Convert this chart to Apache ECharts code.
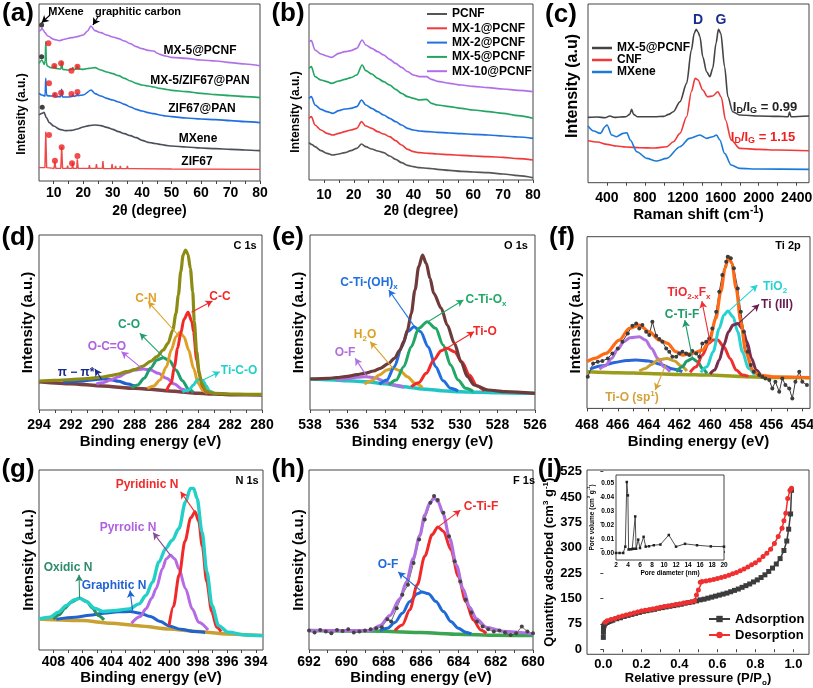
<!DOCTYPE html>
<html><head><meta charset="utf-8">
<script src="https://cdn.jsdelivr.net/npm/echarts@6/dist/echarts.min.js"></script>
<style>html,body{margin:0;padding:0;background:#fff}#c{width:813px;height:688px}</style>
</head><body><div id="c"></div>
<script>
// ================= DATA =================
// (a) XRD, [2theta, intensity a.u.]
const a_mx5pcnf = [[5,448],[5.5,452],[6,458],[6.5,452],[7,445],[8,435],[10,425],[12,421],[14,426],[16,430],[18,433],[20,438],[21.5,450],[22.6,465],[24,451],[26,445],[28,438],[30,432],[32,427],[34,420],[36,412],[38,403],[40,397],[42,392],[44,390],[45,384],[46,380],[48,375],[50,371],[55,368],[60,363],[65,360],[70,355],[75,351],[80,346]];
const a_mx5zif = [[5,353],[6,363],[6.8,350],[7.1,360],[7.3,418],[7.5,355],[7.8,345],[9,340],[10.1,340],[10.3,348],[10.6,338],[12.4,336],[12.7,358],[13.0,335],[15,333],[16.3,336],[16.5,340],[16.8,334],[17.8,336],[18.0,345],[18.3,336],[20,335],[22,338],[24,340],[26,333],[28,327],[30,322],[32,316],[34,308],[36,300],[38,293],[40,288],[42,285],[44,282],[46,278],[48,275],[50,272],[55,268],[60,263],[65,259],[70,256],[75,253],[80,250]];
const a_zifpan = [[5,263],[6,258],[7,255],[7.1,262],[7.3,308],[7.5,262],[7.8,256],[9,255],[10.1,255],[10.3,262],[10.6,253],[12.4,253],[12.7,275],[13.0,252],[15,252],[16.3,254],[16.5,259],[16.8,254],[17.8,256],[18.0,262],[18.3,256],[20,258],[22.7,273],[24,262],[26,255],[28,248],[30,243],[32,237],[34,230],[36,222],[38,215],[40,210],[42,205],[44,202],[46,198],[48,195],[50,193],[55,189],[60,186],[65,184],[70,181],[75,178],[80,175]];
const a_mxene = [[5,198],[6,203],[6.7,206],[7.5,190],[8.5,175],[10,165],[12,155],[14,151],[16,152],[18,156],[20,162],[22,166],[24,168],[26,166],[28,161],[30,155],[32,148],[34,142],[36,136],[38,130],[40,122],[42,116],[44,113],[46,110],[48,107],[50,105],[55,102],[60,99],[65,97],[70,95],[75,93],[80,91]];
const a_zif67 = [[5,40],[7.0,40],[7.3,148],[7.6,40],[10.1,38],[10.4,58],[10.7,38],[12.4,38],[12.7,103],[13.0,38],[14.5,38],[14.7,46],[14.9,38],[16.2,38],[16.4,55],[16.6,38],[17.8,38],[18.0,65],[18.3,38],[21.9,38],[22.1,48],[22.3,38],[24.3,38],[24.5,51],[24.7,38],[26.5,38],[26.7,60],[26.9,37],[29.6,37],[29.8,51],[30,37],[30.8,37],[31,45],[31.2,37],[32.4,37],[32.6,45],[32.8,37],[34.8,37],[35,45],[35.2,37],[36.5,37],[36.7,43],[36.9,37],[50,36],[80,35]];
const a_starsMX = [[5.9,468],[5.9,373],[6.1,221]];
const a_starsZIF = [[8.2,413],[10.2,345],[12.5,353],[16.0,331],[18.05,343],[8.4,293],[10.4,258],[12.5,265],[16.0,261],[18.05,267],[8.4,138],[10.4,61],[12.7,101],[16.2,53],[18.05,75]];
const a_labels = ['MX-5@PCNF','MX-5/ZIF67@PAN','ZIF67@PAN','MXene','ZIF67'];

// (b) XRD
const b_names = ['PCNF','MX-1@PCNF','MX-2@PCNF','MX-5@PCNF','MX-10@PCNF'];
const b_pcnf = [[5,112],[6,106],[7,100],[9,88],[11,80],[13,75],[15,78],[17,82],[19,88],[21,95],[22.6,108],[24,100],[26,93],[28,87],[30,82],[32,72],[34,62],[36,52],[38,44],[40,40],[42,37],[45,35],[48,32],[52,29],[56,26],[60,24],[65,22],[70,18],[75,13],[80,7]];
const b_mx1 = [[5,185],[5.8,190],[7,165],[9,150],[11,140],[13,135],[15,140],[17,145],[19,150],[21,155],[22.6,175],[24,162],[26,155],[28,145],[30,138],[32,130],[34,118],[36,105],[38,92],[40,85],[42,82],[45,80],[48,78],[52,76],[56,74],[60,72],[65,70],[70,68],[75,64],[80,60]];
const b_mx2 = [[5,245],[5.8,250],[7,225],[9,212],[11,205],[13,200],[15,208],[17,213],[19,215],[21,220],[22.6,240],[24,225],[26,215],[28,205],[30,195],[32,185],[34,175],[36,165],[38,155],[40,150],[42,147],[45,145],[48,143],[52,141],[56,139],[60,137],[65,135],[70,132],[75,129],[80,125]];
const b_mx5 = [[5,335],[5.8,340],[7,310],[9,300],[11,295],[12.5,290],[15,297],[17,302],[19,307],[21,315],[22.8,345],[24,328],[26,318],[28,305],[30,295],[32,285],[34,272],[36,260],[38,250],[40,245],[42,240],[44.3,242],[46,230],[48,225],[52,220],[56,215],[60,210],[65,205],[70,200],[75,193],[80,185]];
const b_mx10 = [[5,415],[5.8,418],[7,390],[9,378],[11,372],[12.5,368],[15,380],[17,385],[19,388],[21,395],[22.8,420],[24,405],[26,395],[28,385],[30,375],[32,362],[34,350],[36,338],[38,325],[40,315],[42,310],[44.3,310],[46,302],[48,296],[52,290],[56,285],[60,281],[65,277],[70,273],[75,269],[80,265]];

// (c) Raman, [shift cm-1, intensity]
const c_names = ['MX-5@PCNF','CNF','MXene'];
const c_mx5 = [[200,196],[300,197],[380,195],[430,200],[480,196],[540,197],[600,198],[640,205],[660,220],[680,205],[720,198],[800,198],[900,198],[1000,199],[1050,205],[1100,213],[1170,243],[1240,298],[1290,398],[1320,448],[1340,460],[1360,452],[1380,438],[1410,378],[1450,333],[1485,318],[1515,343],[1550,418],[1575,460],[1600,448],[1640,348],[1675,258],[1725,213],[1800,203],[2000,200],[2200,199],[2310,198],[2325,212],[2340,198],[2530,200]];
const c_cnf = [[200,126],[300,122],[400,115],[500,110],[600,107],[750,105],[900,104],[1030,108],[1100,123],[1170,148],[1240,198],[1290,273],[1330,313],[1360,308],[1410,278],[1460,258],[1515,260],[1570,273],[1605,256],[1650,188],[1710,128],[1800,103],[2000,100],[2200,98],[2530,96]];
const c_mxene = [[200,170],[260,155],[330,148],[380,168],[400,173],[450,143],[500,138],[570,148],[610,150],[645,128],[715,93],[820,73],[920,65],[1030,73],[1170,108],[1270,133],[1380,143],[1450,133],[1515,138],[1555,143],[1590,128],[1640,88],[1710,53],[1800,43],[2000,41],[2530,40]];

// (d) C 1s, [binding energy eV, intensity]
const d_bg = [[294,85],[292,79],[290,72],[288,65],[287,62],[286,58],[285,54],[284,50],[283,48],[282,46],[280,45]];
const d_env = [[294,87],[293,89],[292,91],[291,94],[290,99],[289.5,103],[289,108],[288.5,115],[288,121],[287.5,131],[287,146],[286.6,160],[286.2,180],[285.9,200],[285.6,240],[285.4,290],[285.25,345],[285.1,415],[284.95,465],[284.8,480],[284.65,468],[284.5,425],[284.35,355],[284.25,265],[284.1,175],[283.95,115],[283.8,80],[283.5,57],[283.2,52],[283,50],[282,48],[281,47],[280,47]];
const d_cc = [[286.0,58],[285.7,80],[285.5,130],[285.3,185],[285.1,230],[284.9,272],[284.64,293],[284.4,265],[284.3,235],[284.1,150],[283.9,100],[283.7,68],[283.5,55],[283.2,50]];
const d_cn = [[287.2,65],[286.8,72],[286.4,90],[286.0,130],[285.7,180],[285.4,220],[285.16,233],[284.9,220],[284.6,180],[284.3,125],[284.0,80],[283.7,58],[283.4,50]];
const d_co = [[288.2,67],[287.8,75],[287.4,95],[287.0,125],[286.6,150],[286.2,157],[285.8,148],[285.4,120],[285.0,88],[284.6,62],[284.3,53]];
const d_oco = [[290.4,78],[290,82],[289.5,90],[289,100],[288.5,112],[288,120],[287.46,123],[287,120],[286.5,110],[286,95],[285.5,78],[285,62],[284.6,55]];
const d_pi = [[292.5,84],[291.5,86],[290.5,91],[290,93],[289.5,91],[289,86],[288.5,79],[288,72]];
const d_tico = [[285.0,55],[284.6,60],[284.3,75],[284.1,88],[283.9,93],[283.7,88],[283.5,72],[283.3,57],[283.0,50]];

// (e) O 1s
const e_bg = [[538,93],[537,91],[536,88],[535,85],[534,79],[533,70],[532,63],[531,58],[530,55],[529,53],[528,52],[526,50]];
const e_env = [[538,93],[537,95],[536.6,97],[536,101],[535.5,106],[535.1,110],[534.6,117],[534.25,125],[533.8,140],[533.5,155],[533.2,180],[533.0,205],[532.8,240],[532.6,290],[532.4,360],[532.2,430],[532.0,465],[531.8,440],[531.6,395],[531.4,350],[531.0,305],[530.68,255],[530.3,200],[529.95,145],[529.6,100],[529.25,75],[528.5,60],[527.6,55],[526,50]];
const e_tio = [[532.6,70],[532.2,82],[531.8,110],[531.4,150],[531.0,178],[530.7,185],[530.3,175],[529.9,145],[529.5,105],[529.1,72],[528.7,57]];
const e_ctiox = [[533.8,75],[533.4,90],[533.0,130],[532.6,190],[532.2,245],[531.75,265],[531.3,245],[530.9,195],[530.5,135],[530.1,90],[529.7,65],[529.3,56]];
const e_ctioh = [[534.3,77],[533.9,90],[533.5,130],[533.1,190],[532.8,235],[532.45,250],[532.1,235],[531.7,190],[531.3,130],[530.9,88],[530.5,65],[530.1,57]];
const e_h2o = [[535.1,78],[534.7,88],[534.3,105],[533.9,120],[533.55,125],[533.2,118],[532.8,100],[532.4,80],[532.0,68]];
const e_of = [[536.6,91],[536,94],[535.5,98],[535,100],[534.5,96],[534,85],[533.5,75],[533,68]];

// (f) Ti 2p
const f_bg = [[468,110],[466,107],[464,105],[462,102],[460,100],[458,96],[456,93],[453.5,92]];
const f_raw = [[467.95,95],[467.6,135],[467.3,140],[467.0,142],[466.65,150],[466.35,165],[466.0,180],[465.7,200],[465.35,225],[465.05,248],[464.8,255],[464.6,240],[464.4,250],[464.15,230],[463.95,220],[463.75,260],[463.5,218],[463.3,208],[463.1,200],[462.85,180],[462.65,170],[462.45,155],[462.2,155],[462.0,165],[461.8,170],[461.55,165],[461.35,160],[461.15,172],[460.9,165],[460.7,155],[460.5,195],[460.25,200],[460.05,210],[459.85,240],[459.6,290],[459.4,350],[459.2,400],[458.95,440],[458.85,455],[458.65,450],[458.45,420],[458.2,360],[458.0,290],[457.8,230],[457.55,170],[457.35,130],[457.15,110],[456.8,100],[456.6,95],[456.4,90],[456.15,85],[455.95,60],[455.75,80],[455.5,50],[455.3,90],[455.1,70],[454.85,60],[454.65,30],[454.45,80],[454.2,110],[454.0,80],[453.7,70]];
const f_env = [[468,140],[467.5,150],[466.77,165],[465.9,205],[465.25,240],[464.6,250],[463.95,230],[463.3,205],[462.76,195],[462.22,170],[461.79,160],[461.14,165],[460.49,175],[460.06,200],[459.62,270],[459.3,350],[459.02,420],[458.8,455],[458.58,435],[458.3,360],[458.0,260],[457.68,170],[457.24,115],[456.81,100],[455.94,95],[453.5,92]];
const f_tiiii = [[460.0,103],[459.7,115],[459.4,145],[459.1,190],[458.8,230],[458.5,250],[458.2,255],[457.9,240],[457.6,200],[457.3,150],[457.0,115],[456.7,98]];
const f_tio2 = [[460.6,108],[460.2,125],[459.8,170],[459.4,240],[459.1,280],[458.85,292],[458.5,275],[458.2,230],[457.9,170],[457.5,120],[457.1,100]];
const f_tiof = [[461.3,108],[460.9,125],[460.5,160],[460.1,195],[459.8,205],[459.5,205],[459.1,185],[458.7,150],[458.3,115],[457.9,100],[457.5,96]];
const f_ctif = [[462.2,110],[461.8,125],[461.5,142],[461.15,150],[460.8,140],[460.5,120],[460.2,105]];
const f_tiosp = [[464.6,112],[464.2,120],[463.8,132],[463.4,145],[462.8,150],[462.3,142],[461.9,128],[461.5,112]];
const f_p12 = [[467.2,118],[466.8,128],[466.4,150],[466.0,178],[465.6,200],[465.2,212],[464.6,215],[464.2,205],[463.8,180],[463.4,150],[463.0,125],[462.6,110]];
const f_sat = [[467.8,118],[467.0,128],[466.2,138],[465.4,144],[464.8,145],[464.0,142],[463.2,132],[462.4,118],[461.8,110]];

// (g) N 1s
const g_bg = [[409,93],[406,88],[404,80],[402,72],[400,63],[398,55],[396,48],[393.5,43]];
const g_env = [[409,93],[408.25,98],[407.67,113],[407.1,133],[406.53,150],[406.19,155],[405.73,145],[405.16,125],[404.58,115],[403.67,118],[402.75,123],[402.07,138],[401.6,163],[401.15,203],[400.7,263],[400.24,303],[399.78,328],[399.32,363],[398.86,443],[398.52,483],[398.3,483],[398.06,453],[397.72,353],[397.38,233],[397.03,133],[396.57,73],[395.9,53],[394.74,45],[393.5,43]];
const g_pyridinic = [[400.0,73],[399.7,130],[399.3,225],[398.9,325],[398.5,395],[398.2,413],[397.95,385],[397.7,310],[397.4,205],[397.05,115],[396.7,68],[396.4,55]];
const g_pyrrolic = [[402.6,80],[402.0,100],[401.6,123],[401.2,155],[400.9,183],[400.46,243],[400.2,272],[399.9,283],[399.6,272],[399.32,243],[398.86,183],[398.4,123],[397.95,83],[397.3,60]];
const g_graphitic = [[407.8,92],[406.5,98],[405.5,104],[404.5,110],[403.5,114],[402.7,115],[402.0,110],[401.3,100],[400.6,85],[400.0,72],[399.2,62],[398.2,55],[397.5,52]];
const g_oxidic = [[408.0,92],[407.6,105],[407.2,125],[406.8,143],[406.2,155],[405.7,145],[405.3,125],[404.9,103],[404.5,90]];

// (h) F 1s
const h_bg = [[692,58],[690,57],[688,56],[686,52],[684,47],[682,44],[680,43]];
const h_raw = [[692,58],[691.7,52],[691.4,60],[691.1,55],[690.8,50],[690.5,60],[690.2,57],[689.9,62],[689.6,52],[689.3,55],[689.0,58],[688.7,62],[688.4,65],[688.1,68],[687.8,92],[687.6,85],[687.3,125],[687.0,165],[686.7,195],[686.4,260],[686.1,330],[685.8,390],[685.5,440],[685.3,460],[685.1,448],[684.8,410],[684.5,340],[684.2,265],[683.9,205],[683.6,150],[683.3,112],[683.0,85],[682.7,70],[682.4,62],[682.1,55],[681.8,58],[681.5,52],[681.2,45],[680.9,50],[680.6,70],[680.3,55],[680.0,50]];
const h_env = [[692,58],[690,58],[688.7,58],[688.2,73],[687.67,103],[687.13,153],[686.78,203],[686.42,273],[686.06,343],[685.8,403],[685.53,438],[685.3,455],[685.08,443],[684.82,408],[684.46,333],[684.1,253],[683.75,183],[683.4,128],[683.03,93],[682.5,68],[681.6,56],[680,48]];
const h_ctif = [[687.4,58],[687.0,75],[686.6,120],[686.2,195],[685.8,280],[685.4,345],[685.1,368],[684.8,355],[684.4,300],[684.0,220],[683.6,145],[683.2,90],[682.8,60],[682.5,50]];
const h_of = [[688.2,58],[687.8,65],[687.4,82],[687.0,110],[686.6,145],[686.2,168],[685.95,173],[685.6,168],[685.2,145],[684.8,115],[684.4,85],[684.0,65],[683.6,53],[683.3,48]];

// (i) N2 isotherm [P/P0, cm3/g] and inset PSD [nm, cm3/g]
const i_ads = [[0,35],[0.0005,50],[0.001,62],[0.002,68],[0.005,72],[0.01,76],[0.02,79],[0.03,82],[0.04,84],[0.05,86],[0.07,90],[0.09,93],[0.11,97],[0.13,100],[0.15,103],[0.17,106],[0.19,109],[0.21,112],[0.23,114],[0.25,116],[0.27,118],[0.29,121],[0.31,123],[0.33,125],[0.35,127],[0.37,129],[0.39,131],[0.41,133],[0.43,136],[0.45,138],[0.47,140],[0.49,143],[0.51,146],[0.53,148],[0.55,151],[0.57,154],[0.59,157],[0.61,160],[0.63,163],[0.65,166],[0.67,170],[0.69,174],[0.71,178],[0.73,183],[0.75,188],[0.77,193],[0.79,199],[0.81,205],[0.83,212],[0.85,220],[0.87,230],[0.89,240],[0.91,252],[0.93,268],[0.95,292],[0.965,320],[0.975,355],[0.985,400],[0.99,470]];
const i_des = [[0.99,476],[0.982,470],[0.97,446],[0.96,402],[0.95,380],[0.94,358],[0.92,333],[0.9,313],[0.88,296],[0.86,284],[0.84,274],[0.82,264],[0.8,256],[0.78,250],[0.76,243],[0.74,237],[0.72,232],[0.7,227],[0.68,223],[0.66,219],[0.64,215],[0.62,212],[0.6,209],[0.58,206],[0.56,204],[0.54,202],[0.52,200],[0.51,198],[0.5,175],[0.49,160],[0.48,143],[0.46,140],[0.44,138],[0.42,136],[0.4,134],[0.38,132],[0.36,130],[0.34,128],[0.32,126],[0.3,124],[0.28,121],[0.26,119],[0.24,117],[0.22,115],[0.2,113],[0.18,110],[0.16,107],[0.14,104],[0.12,101],[0.1,98],[0.08,95],[0.06,91],[0.04,88],[0.02,84],[0.01,80]];
const i_psd = [[2,0],[2.6,0],[3.2,0],[3.55,0.0045],[3.8,0.0505],[3.98,0.041],[4.1,0.0025],[4.4,0.0026],[4.7,0.0028],[4.95,0.003],[5.2,0.026],[5.35,0.003],[5.7,0.0095],[6.0,0.0035],[6.6,0.0115],[6.95,0.0045],[7.5,0.0048],[8.3,0.0055],[9.4,0.006],[10.8,0.0128],[12.0,0.0045],[13.5,0.0065],[15.5,0.0055],[17.8,0.0047],[20,0.0045]];

// tick label values
const ticksXRD = [10,20,30,40,50,60,70,80];
const ticksRaman = [400,800,1200,1600,2000,2400];
const ticksC = [280,282,284,286,288,290,292,294];
const ticksO = [526,528,530,532,534,536,538];
const ticksTi = [454,456,458,460,462,464,466,468];
const ticksN = [394,396,398,400,402,404,406,408];
const ticksF = [680,682,684,686,688,690,692];
const ticksP = [0,0.2,0.4,0.6,0.8,1.0];
const ticksQ = [0,75,150,225,300,375,450,525];
const ticksPD = [2,4,6,8,10,12,14,16,18,20];
const ticksPV = [0,0.01,0.02,0.03,0.04,0.05];

// ================= CHART =================
const F = "'Liberation Sans', Arial, Helvetica, sans-serif";
function mk(o, d){ for (const k in d){ const v=d[k]; if (v && typeof v==='object' && !Array.isArray(v) && o[k] && typeof o[k]==='object' && !Array.isArray(o[k])) mk(o[k], v); else o[k]=v; } return o; }
function withMid(arr){ const out=[]; for(let i=0;i<arr.length;i++){ out.push(arr[i]); if(i<arr.length-1) out.push((arr[i]+arr[i+1])/2); } return out; }

const gridDefs = [
  {left:39, top:4, width:221, height:177},
  {left:309, top:4, width:224, height:176},
  {left:588, top:4, width:221, height:178.7},
  {left:39, top:235, width:223, height:175},
  {left:310, top:235, width:225, height:175},
  {left:587, top:236.7, width:223, height:171.7},
  {left:39, top:470, width:224, height:180},
  {left:309, top:470, width:224, height:180},
  {left:587, top:470, width:222, height:184.3},
  {left:616, top:475, width:108, height:85}
];
const grid = gridDefs.map((g,i)=>Object.assign({show:true, borderColor:'#444', borderWidth:1, outerBoundsMode:'none', containLabel:false, backgroundColor: i===9?'#fff':'transparent', z: i===9?5:0}, g));

function xA(gi,min,max,extra){
  return mk({type:'value', gridIndex:gi, min, max, splitLine:{show:false}, axisLine:{show:false},
    axisTick:{show:true, inside:false, length:3, lineStyle:{color:'#444', width:1}},
    axisLabel:{fontFamily:F, fontWeight:'bold', fontSize:14, color:'#000', margin:6, showMinLabel:true, showMaxLabel:true, hideOverlap:false, formatter:v=>String(v)},
    nameLocation:'middle', nameGap:22, nameTextStyle:{fontFamily:F, fontWeight:'bold', fontSize:15, color:'#000'}}, extra||{});
}
function yA(gi,min,max,extra){
  return mk({type:'value', gridIndex:gi, min, max, splitLine:{show:false}, axisLine:{show:false}, axisTick:{show:false}, axisLabel:{show:false},
    name:'Intensity (a.u.)', nameLocation:'middle', nameGap:5, nameTextStyle:{fontFamily:F, fontWeight:'bold', fontSize:15, color:'#000'}}, extra||{});
}
const supRich = (fs)=>({n:{fontFamily:F, fontWeight:'bold', fontSize:fs, color:'#000', lineHeight:fs+4}, s:{fontFamily:F, fontWeight:'bold', fontSize:Math.round(fs*0.65), color:'#000', lineHeight:Math.round(fs*0.65), verticalAlign:'top'}, b:{fontFamily:F, fontWeight:'bold', fontSize:Math.round(fs*0.65), color:'#000', lineHeight:Math.round(fs*0.65), verticalAlign:'bottom'}});
const tk = (vals)=>({customValues:withMid(vals)});

const xAxis = [
  xA(0,5,80,{name:'2θ (degree)', nameGap:23, nameTextStyle:{fontSize:14}, axisLabel:{customValues:ticksXRD, margin:5}, axisTick:tk(ticksXRD)}),
  xA(1,5,80,{name:'2θ (degree)', nameGap:24, nameTextStyle:{fontSize:14}, axisLabel:{customValues:ticksXRD, margin:8}, axisTick:tk(ticksXRD)}),
  xA(2,200,2530,{name:'{n|Raman shift (cm}{s|-1}{n|)}', nameGap:19, nameTextStyle:{rich:supRich(15)}, axisLabel:{customValues:ticksRaman, margin:8}, axisTick:tk(ticksRaman)}),
  xA(3,280,294,{inverse:true, name:'Binding energy (eV)', nameGap:24, axisLabel:{customValues:ticksC, margin:8}, axisTick:tk(ticksC)}),
  xA(4,526,538,{inverse:true, name:'Binding energy (eV)', nameGap:24, axisLabel:{customValues:ticksO, margin:8}, axisTick:tk(ticksO)}),
  xA(5,453.5,468,{inverse:true, name:'Binding energy (eV)', nameGap:26, axisLabel:{customValues:ticksTi, margin:10}, axisTick:tk(ticksTi)}),
  xA(6,393.5,409,{inverse:true, name:'Binding energy (eV)', nameGap:19, axisLabel:{customValues:ticksN, margin:5}, axisTick:tk(ticksN)}),
  xA(7,680,692,{inverse:true, name:'Binding energy (eV)', nameGap:19, axisLabel:{customValues:ticksF, margin:5}, axisTick:tk(ticksF)}),
  xA(8,-0.086,1.082,{name:'{n|Relative pressure (P/P}{b|o}{n|)}', nameGap:13, nameTextStyle:{rich:supRich(13)}, axisLabel:{customValues:ticksP, fontSize:13, margin:4, formatter:v=>v.toFixed(1)}, axisTick:tk(ticksP)}),
  xA(9,2,20,{name:'Pore diameter (nm)', nameGap:8, nameTextStyle:{fontSize:6.5}, axisLabel:{customValues:ticksPD, fontSize:6.5, margin:2}, axisTick:{inside:true, length:2, customValues:ticksPD}})
];
const yAxis = [
  yA(0,0,531,{name:''}),
  yA(1,0,528,{name:''}),
  yA(2,0,536,{name:''}),
  yA(3,0,525,{nameGap:4}),
  yA(4,0,525,{nameGap:4}),
  yA(5,0,515,{nameGap:4}),
  yA(6,0,538,{nameGap:3}),
  yA(7,0,538,{nameGap:3}),
  yA(8,-15,530,{name:'{n|Quantity adsorbed (cm}{s|3}{n| g}{s|-1}{n|)}', nameGap:28, nameTextStyle:{rich:supRich(13)}, axisLabel:{show:true, customValues:ticksQ, fontFamily:F, fontWeight:'bold', fontSize:13, color:'#000', margin:5}, axisTick:{show:true, length:3, customValues:ticksQ, lineStyle:{color:'#444'}}}),
  yA(9,-0.005,0.0555,{name:'{n|Pore volume (cm}{s|3}{n| g}{s|-1}{n|)}', nameGap:19, nameTextStyle:{rich:supRich(6.5)}, axisLabel:{show:true, customValues:ticksPV, fontFamily:F, fontWeight:'bold', fontSize:6.5, color:'#000', margin:2, formatter:v=>v.toFixed(2)}, axisTick:{show:true, inside:true, length:2, customValues:ticksPV, lineStyle:{color:'#444'}}})
];

function ln(gi,name,data,color,width,extra){
  return mk({type:'line', name, xAxisIndex:gi, yAxisIndex:gi, data, symbol:'none', smooth:0.3, smoothMonotone:'x',
    lineStyle:{color, width}, itemStyle:{color}, silent:true, animation:false, z:2, emphasis:{disabled:true}}, extra||{});
}
function arrows(color, pairs){
  return {silent:true, animation:false, symbol:['none','arrow'], symbolSize:[6,7], lineStyle:{color, width:1.1, type:'solid'},
    label:{show:false}, emphasis:{disabled:true}, data: pairs.map(p=>[{coord:p[0]},{coord:p[1]}])};
}
const series = [];
// (a)
series.push(ln(0,'a5',a_zif67,'#f04848',1.4,{smooth:false}));
series.push(ln(0,'a4',a_mxene,'#4a4f5a',1.6));
series.push(ln(0,'a3',a_zifpan,'#1f6fe0',1.6));
series.push(ln(0,'a2',a_mx5zif,'#25a765',1.6));
series.push(ln(0,'a1',a_mx5pcnf,'#b070e8',1.6,{markLine:arrows('#000',[[[8.75,498],[5.9,475]],[[25.2,495],[23.3,468]]])}));
series.push({type:'scatter', xAxisIndex:0, yAxisIndex:0, data:a_starsMX, symbol:'circle', symbolSize:5, itemStyle:{color:'#111'}, silent:true, animation:false, z:4});
series.push({type:'scatter', xAxisIndex:0, yAxisIndex:0, data:a_starsZIF, symbol:'circle', symbolSize:6, itemStyle:{color:'#ee2020'}, silent:true, animation:false, z:4});
// (b)
const bCols = ['#555555','#f03a3a','#1f72e0','#22a463','#b06fe8'];
[b_pcnf,b_mx1,b_mx2,b_mx5,b_mx10].forEach((d,i)=>series.push(ln(1,b_names[i],d,bCols[i],1.6)));
// (c)
const cCols = ['#444444','#f03a3a','#1a7ad8'];
[c_mx5,c_cnf,c_mxene].forEach((d,i)=>series.push(ln(2,c_names[i]+'\u200b',d,cCols[i],1.6)));
// (d)
series.push(ln(3,'d_bg',d_bg,'#7b4040',3.5,{smooth:0.2}));
series.push(ln(3,'d_pi',d_pi,'#1f5fd0',3,{markLine:arrows('#1a2a8c',[[[290.07,92],[290.49,123]]])}));
series.push(ln(3,'d_oco',d_oco,'#b566e6',3,{markLine:arrows('#b566e6',[[[287.46,122],[288.82,175]]])}));
series.push(ln(3,'d_co',d_co,'#1f9e6e',3,{markLine:arrows('#1f9e6e',[[[286.1,155],[287.67,230]]])}));
series.push(ln(3,'d_cn',d_cn,'#e0a028',3,{markLine:arrows('#e0a028',[[[285.27,225],[287.15,325]]])}));
series.push(ln(3,'d_cc',d_cc,'#f02a2a',3,{markLine:arrows('#f02a2a',[[[284.43,293],[283.11,327]]])}));
series.push(ln(3,'d_tico',d_tico,'#22d0c8',3,{markLine:arrows('#22d0c8',[[[283.7,90],[282.65,115]]])}));
series.push(ln(3,'d_env',d_env,'#8c8c14',3.2));
// (e)
series.push(ln(4,'e_bg',e_bg,'#22c4c4',3.5,{smooth:0.2}));
series.push(ln(4,'e_of',e_of,'#b070e0',3,{markLine:arrows('#b070e0',[[[534.96,100],[535.59,155]]])}));
series.push(ln(4,'e_h2o',e_h2o,'#d9a224',3,{markLine:arrows('#d9a224',[[[533.57,125],[534.79,205]]])}));
series.push(ln(4,'e_ctioh',e_ctioh,'#1f6fe0',3,{markLine:arrows('#1f6fe0',[[[532.43,250],[533.8,360]]])}));
series.push(ln(4,'e_ctiox',e_ctiox,'#22a866',3,{markLine:arrows('#22a866',[[[531.71,265],[529.82,330]]])}));
series.push(ln(4,'e_tio',e_tio,'#f02a2a',3,{markLine:arrows('#f02a2a',[[[530.77,183],[529.25,235]]])}));
series.push(ln(4,'e_env',e_env,'#6e3a3a',3.2));
// (f)
series.push(ln(5,'f_bg',f_bg,'#9c9c1c',3.5,{smooth:0.2}));
series.push(ln(5,'f_raw',f_raw,'#3c3c3c',1,{smooth:false, symbol:'circle', symbolSize:4, showSymbol:true}));
series.push(ln(5,'f_sat',f_sat,'#2a66d8',3));
series.push(ln(5,'f_p12',f_p12,'#b070e0',3));
series.push(ln(5,'f_tiosp',f_tiosp,'#c9a030',3,{markLine:arrows('#d4a23a',[[[462.87,132],[463.56,55]]])}));
series.push(ln(5,'f_ctif',f_ctif,'#1f9a6a',3,{markLine:arrows('#1f9a6a',[[[461.14,150],[461.64,265]]])}));
series.push(ln(5,'f_tiof',f_tiof,'#f03030',3,{markLine:arrows('#f03030',[[[460.01,202],[460.53,322]]])}));
series.push(ln(5,'f_tio2',f_tio2,'#26d2d2',3,{markLine:arrows('#26d2d2',[[[458.87,288],[456.92,370]]])}));
series.push(ln(5,'f_tiiii',f_tiiii,'#7a2c4c',3,{markLine:arrows('#6a1a50',[[[458.15,255],[456.81,312]]])}));
series.push(ln(5,'f_env',f_env,'#ff6a14',3.2));
// (g)
series.push(ln(6,'g_bg',g_bg,'#c9a032',3.5,{smooth:0.2}));
series.push(ln(6,'g_graphitic',g_graphitic,'#1f62d2',3,{markLine:arrows('#1f62d2',[[[402.52,118],[402.7,178]]])}));
series.push(ln(6,'g_oxidic',g_oxidic,'#2d8c5c',3,{markLine:arrows('#2d8c6c',[[[406.19,155],[406.23,225]]])}));
series.push(ln(6,'g_pyrrolic',g_pyrrolic,'#b56ae6',3,{markLine:arrows('#8a4a9a',[[[399.9,283],[401.1,351]]])}));
series.push(ln(6,'g_pyridinic',g_pyridinic,'#f02a2a',3,{markLine:arrows('#f02a2a',[[[398.22,413],[399.2,473]]])}));
series.push(ln(6,'g_env',g_env,'#22d0c8',3.4));
// (h)
series.push(ln(7,'h_bg',h_bg,'#3aa450',3.5,{smooth:0.2}));
series.push(ln(7,'h_raw',h_raw,'#444444',0.8,{smooth:false, symbol:'circle', symbolSize:4, showSymbol:true}));
series.push(ln(7,'h_of',h_of,'#1f6ad8',3,{markLine:arrows('#1f6ad8',[[[685.97,175],[687.22,233]]])}));
series.push(ln(7,'h_ctif',h_ctif,'#f02a2a',3,{markLine:arrows('#f02a2a',[[[685.08,368],[683.89,418]]])}));
series.push(ln(7,'h_env',h_env,'#b070e0',3.2));
// (i)
series.push(ln(8,'Adsorption',i_ads,'#3c3c3c',1.5,{smooth:false, symbol:'rect', symbolSize:5, showSymbol:true, z:3}));
series.push(ln(8,'Desorption',i_des,'#f03030',1.5,{smooth:false, symbol:'circle', symbolSize:5, showSymbol:true, z:3}));
series.push(ln(9,'psd',i_psd,'#222222',0.8,{smooth:false, symbol:'rect', symbolSize:2.5, showSymbol:true, z:6}));

// ---- annotations ----
function tx(x,y,text,color,size){ return {type:'text', x, y, silent:true, z:100, style:{text, fill:color, fontFamily:F, fontWeight:'bold', fontSize:size, align:'center', verticalAlign:'middle'}}; }
function vt(x,y,text,size){ const t = tx(x,y,text,'#000',size); t.rotation = Math.PI/2; return t; }
function rt(x,y,parts,color,size){
  const sm = Math.round(size*0.68);
  const rich = {n:{fill:color, color, fontFamily:F, fontWeight:'bold', fontSize:size, lineHeight:size+4},
    b:{fill:color, color, fontFamily:F, fontWeight:'bold', fontSize:sm, lineHeight:sm, verticalAlign:'bottom'},
    s:{fill:color, color, fontFamily:F, fontWeight:'bold', fontSize:sm, lineHeight:sm, verticalAlign:'top'}};
  return {type:'text', x, y, silent:true, z:100, style:{text:parts.map(p=>'{'+p[1]+'|'+p[0]+'}').join(''), rich, fill:color, fontFamily:F, fontWeight:'bold', fontSize:size, align:'center', verticalAlign:'middle'}};
}
const graphic = [
  tx(18,14,'(a)','#000',26), tx(288,14,'(b)','#000',26), tx(561,15,'(c)','#000',26),
  tx(18,238,'(d)','#000',26), tx(288,238,'(e)','#000',26), tx(562,238,'(f)','#000',26),
  tx(18,470,'(g)','#000',26), tx(288,470,'(h)','#000',26), tx(550,470,'(i)','#000',26),
  vt(22,114,'Intensity (a.u.)',12), vt(296,112,'Intensity (a.u.)',12), vt(573,86,'Intensity (a.u)',16),
  tx(66,12,'MXene','#000',11), tx(138,12,'graphitic carbon','#000',11),
  tx(200,51,a_labels[0],'#000',12), tx(200,81,a_labels[1],'#000',12), tx(202,109,a_labels[2],'#000',12), tx(198,139,a_labels[3],'#000',12), tx(197,162,a_labels[4],'#000',12),
  tx(698,20,'D','#1a2c8c',14), tx(721,20,'G','#1a2c8c',14),
  rt(765,107,[['I','n'],['D','b'],['/I','n'],['G','b'],[' = 0.99','n']],'#222',13),
  rt(763,137,[['I','n'],['D','b'],['/I','n'],['G','b'],[' = 1.15','n']],'#f02020',13),
  tx(245,246,'C 1s','#000',11), tx(220,297,'C-C','#f02a2a',12), tx(146,299,'C-N','#e0a028',12), tx(129,325,'C-O','#1f9e6e',12),
  tx(107,347,'O-C=O','#b060e0',12), tx(76,373,'π − π*','#1a2a8c',12), tx(239,371,'Ti-C-O','#22d0c8',12),
  tx(516,246,'O 1s','#000',11), rt(369,283,[['C-Ti-(OH)','n'],['x','b']],'#1f6fe0',12), rt(486,300,[['C-Ti-O','n'],['x','b']],'#22a866',12),
  tx(485,332,'Ti-O','#f02a2a',12), rt(365,335,[['H','n'],['2','b'],['O','n']],'#d9a224',12), tx(345,353,'O-F','#b070e0',12),
  tx(788,246,'Ti 2p','#000',11), rt(775,287,[['TiO','n'],['2','b']],'#26d2d2',12), tx(777,305,'Ti (III)','#6a1a50',12),
  rt(689,293,[['TiO','n'],['2-x','b'],['F','n'],['x','b']],'#f02a30',12), tx(682,315,'C-Ti-F','#1f9a6a',12),
  rt(632,398,[['Ti-O (sp','n'],['1','s'],[')','n']],'#d4a23a',12),
  tx(247,481,'N 1s','#000',11), tx(147,485,'Pyridinic N','#f02a2a',12), tx(128,528,'Pyrrolic N','#b060e0',12),
  tx(68,568,'Oxidic N','#2d8c6c',12), tx(114,586,'Graphitic N','#1f62d2',12),
  tx(524,481,'F 1s','#000',11), tx(481,507,'C-Ti-F','#f02a2a',12), tx(388,565,'O-F','#1f6ad8',12)
];

const legend = [
  {data:b_names, left:427, top:7, padding:0, orient:'vertical', icon:'rect', itemWidth:20, itemHeight:2, itemGap:0.3, selectedMode:false,
   textStyle:{fontFamily:F, fontWeight:'bold', fontSize:12, color:'#000', lineHeight:14}},
  {data:c_names.map(n=>n+'\u200b'), left:592, top:42, padding:0, orient:'vertical', icon:'rect', itemWidth:20, itemHeight:2.5, itemGap:0, selectedMode:false,
   textStyle:{fontFamily:F, fontWeight:'bold', fontSize:12, color:'#000', lineHeight:11.7}},
  {data:['Adsorption','Desorption'], left:708, top:611, padding:0, orient:'vertical', itemWidth:21, itemHeight:8, itemGap:0, selectedMode:false,
   textStyle:{fontFamily:F, fontWeight:'bold', fontSize:13, color:'#000', lineHeight:16}}
];

const chart = echarts.init(document.getElementById('c'), null, {renderer:'canvas'});
chart.setOption({animation:false, backgroundColor:'#fff', grid, xAxis, yAxis, series, legend, graphic});
</script></body></html>
